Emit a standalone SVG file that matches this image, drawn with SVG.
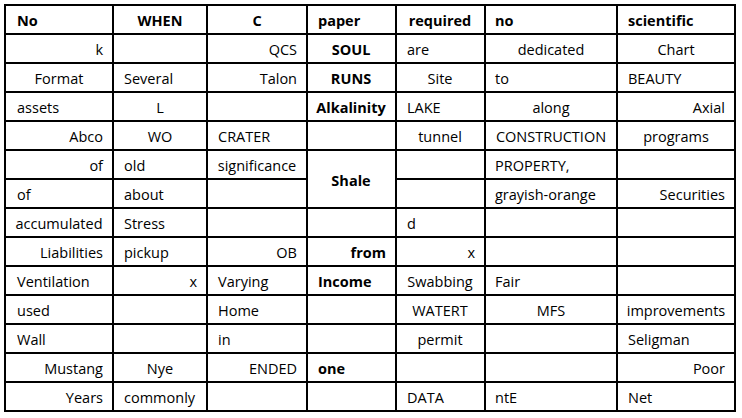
<svg xmlns="http://www.w3.org/2000/svg" width="742" height="418" viewBox="0 0 742 418">
<style>
text{font-family:"Open Sans","Noto Sans","DejaVu Sans",sans-serif;font-size:14.5px;fill:#000}
.b{font-weight:bold}
.c{text-anchor:middle}
.r{text-anchor:end}
.grid line,.grid rect{stroke:#000;stroke-width:2;fill:none}
</style>
<rect x="0" y="0" width="742" height="418" fill="#fff"/>
<g id="grid" class="grid">
<rect x="5" y="5" width="730" height="406"/>
<line x1="113" y1="5" x2="113" y2="411"/>
<line x1="207" y1="5" x2="207" y2="411"/>
<line x1="307" y1="5" x2="307" y2="411"/>
<line x1="396" y1="5" x2="396" y2="411"/>
<line x1="485" y1="5" x2="485" y2="411"/>
<line x1="617" y1="5" x2="617" y2="411"/>
<line x1="5" y1="34" x2="735" y2="34"/>
<line x1="5" y1="63" x2="735" y2="63"/>
<line x1="5" y1="92" x2="735" y2="92"/>
<line x1="5" y1="121" x2="735" y2="121"/>
<line x1="5" y1="150" x2="735" y2="150"/>
<line x1="5" y1="179" x2="307" y2="179"/>
<line x1="396" y1="179" x2="735" y2="179"/>
<line x1="5" y1="208" x2="735" y2="208"/>
<line x1="5" y1="237" x2="735" y2="237"/>
<line x1="5" y1="266" x2="735" y2="266"/>
<line x1="5" y1="295" x2="735" y2="295"/>
<line x1="5" y1="324" x2="735" y2="324"/>
<line x1="5" y1="353" x2="735" y2="353"/>
<line x1="5" y1="382" x2="735" y2="382"/>
</g>
<g id="header" class="b">
<text x="17" y="26">No</text>
<text x="160" y="26" class="c">WHEN</text>
<text x="257" y="26" class="c">C</text>
<text x="318" y="26">paper</text>
<text x="440" y="26" class="c">required</text>
<text x="495" y="26">no</text>
<text x="628" y="26">scientific</text>
</g>
<g id="row1">
<text x="103" y="55" class="r">k</text>
<text x="297" y="55" class="r">QCS</text>
<text x="351" y="55" class="c b">SOUL</text>
<text x="407" y="55">are</text>
<text x="551" y="55" class="c">dedicated</text>
<text x="676" y="55" class="c">Chart</text>
</g>
<g id="row2">
<text x="59" y="84" class="c">Format</text>
<text x="124" y="84">Several</text>
<text x="297" y="84" class="r">Talon</text>
<text x="351" y="84" class="c b">RUNS</text>
<text x="440" y="84" class="c">Site</text>
<text x="495" y="84">to</text>
<text x="628" y="84">BEAUTY</text>
</g>
<g id="row3">
<text x="17" y="113">assets</text>
<text x="160" y="113" class="c">L</text>
<text x="351" y="113" class="c b">Alkalinity</text>
<text x="407" y="113">LAKE</text>
<text x="551" y="113" class="c">along</text>
<text x="725" y="113" class="r">Axial</text>
</g>
<g id="row4">
<text x="103" y="142" class="r">Abco</text>
<text x="160" y="142" class="c">WO</text>
<text x="218" y="142">CRATER</text>
<text x="440" y="142" class="c">tunnel</text>
<text x="551" y="142" class="c">CONSTRUCTION</text>
<text x="676" y="142" class="c">programs</text>
</g>
<g id="row5">
<text x="103" y="171" class="r">of</text>
<text x="124" y="171">old</text>
<text x="257" y="171" class="c">significance</text>
<text x="351" y="186" class="c b">Shale</text>
<text x="495" y="171">PROPERTY,</text>
</g>
<g id="row6">
<text x="17" y="200">of</text>
<text x="124" y="200">about</text>
<text x="495" y="200">grayish-orange</text>
<text x="725" y="200" class="r">Securities</text>
</g>
<g id="row7">
<text x="59" y="229" class="c">accumulated</text>
<text x="124" y="229">Stress</text>
<text x="407" y="229">d</text>
</g>
<g id="row8">
<text x="103" y="258" class="r">Liabilities</text>
<text x="124" y="258">pickup</text>
<text x="297" y="258" class="r">OB</text>
<text x="386" y="258" class="r b">from</text>
<text x="475" y="258" class="r">x</text>
</g>
<g id="row9">
<text x="17" y="287">Ventilation</text>
<text x="197" y="287" class="r">x</text>
<text x="218" y="287">Varying</text>
<text x="318" y="287" class="b">Income</text>
<text x="440" y="287" class="c">Swabbing</text>
<text x="495" y="287">Fair</text>
</g>
<g id="row10">
<text x="17" y="316">used</text>
<text x="218" y="316">Home</text>
<text x="440" y="316" class="c">WATERT</text>
<text x="551" y="316" class="c">MFS</text>
<text x="676" y="316" class="c">improvements</text>
</g>
<g id="row11">
<text x="17" y="345">Wall</text>
<text x="218" y="345">in</text>
<text x="440" y="345" class="c">permit</text>
<text x="628" y="345">Seligman</text>
</g>
<g id="row12">
<text x="103" y="374" class="r">Mustang</text>
<text x="160" y="374" class="c">Nye</text>
<text x="297" y="374" class="r">ENDED</text>
<text x="318" y="374" class="b">one</text>
<text x="725" y="374" class="r">Poor</text>
</g>
<g id="row13">
<text x="103" y="403" class="r">Years</text>
<text x="124" y="403">commonly</text>
<text x="407" y="403">DATA</text>
<text x="495" y="403">ntE</text>
<text x="628" y="403">Net</text>
</g>
</svg>
